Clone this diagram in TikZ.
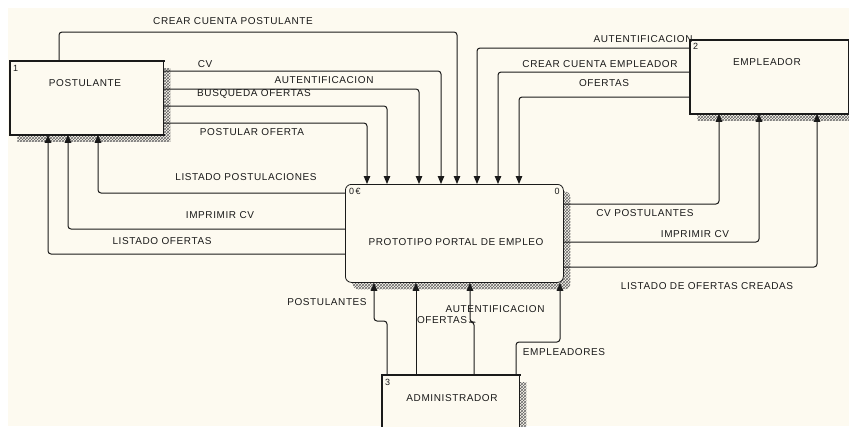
\documentclass[tikz,border=0pt]{standalone}
\usepackage{fontspec}
\newfontfamily\dfdfont{Liberation Sans}[LetterSpace=6]
\usetikzlibrary{arrows.meta,patterns,shadows}
\definecolor{paper}{HTML}{FDFAF0}
\definecolor{ink}{HTML}{1A1A1A}

\begin{document}
\begin{tikzpicture}[x=1pt,y=-1pt,
  every node/.style={font=\dfdfont\fontsize{10}{12}\selectfont, text=ink, inner sep=0pt},
  hatch/.style={general shadow={shadow xshift=7pt, shadow yshift=-7pt,
      pattern=crosshatch, pattern color=black!60}},
  entity/.style={draw=ink, line width=0.8pt, fill=paper, anchor=north west, hatch},
  process/.style={entity, rounded corners=6pt},
  flow/.style={draw=ink, line width=1pt, rounded corners=3pt,
      -{Triangle[length=8pt,width=6.5pt]}},
  edgethick/.style={draw=ink, line width=2.6pt, line cap=rect},
  tag/.style={font=\dfdfont\fontsize{9}{10}\selectfont}
]
% page and paper
\useasboundingbox (0,0) rectangle (849,426);
\fill[white] (0,0) rectangle (849,426);
\fill[paper] (8,8) rectangle (849,426);

% external entities and the process
\node[entity, minimum width=153pt, minimum height=73pt] (post) at (10,61) {};
\node[entity, minimum width=158pt, minimum height=73pt] (emp) at (690,40) {};
\node[entity, minimum width=137pt, minimum height=70pt] (adm) at (382,375) {};
\node[process, minimum width=218pt, minimum height=98pt] (proc) at (345,184) {};

% heavy edges of the entity boxes
\draw[edgethick] (post.north east) -- (post.north west) -- (post.south west) -- (post.south east);
\draw[edgethick] (emp.north east) -- (emp.north west) -- (emp.south west) -- (emp.south east);
\draw[edgethick] (adm.north east) -- (adm.north west) -- (adm.south west);

% titles and numbers
\node (postT) at (85,83) {POSTULANTE};
\node (empT) at (767,62) {EMPLEADOR};
\node (admT) at (452,398) {ADMINISTRADOR};
\node (procT) at (456,242) {PROTOTIPO PORTAL DE EMPLEO};
\node[tag, anchor=north west] (postN) at ([xshift=3pt,yshift=-4pt]post.north west) {1};
\node[tag, anchor=north west] (empN) at ([xshift=3pt,yshift=-3pt]emp.north west) {2};
\node[tag, anchor=north west] (admN) at ([xshift=3pt,yshift=-4pt]adm.north west) {3};
\node[tag, anchor=north west] (procN) at ([xshift=4pt,yshift=-4pt]proc.north west) {0\,€};
\node[tag, anchor=north east] (procM) at ([xshift=-4pt,yshift=-4pt]proc.north east) {0};

% POSTULANTE -> process
\draw[flow] ([xshift=49pt]post.north west) |- (250,32) -| ([xshift=112pt]proc.north west);
\draw[flow] ([yshift=-10pt]post.north east) -| ([xshift=96pt]proc.north west);
\draw[flow] ([yshift=-28pt]post.north east) -| ([xshift=74pt]proc.north west);
\draw[flow] ([yshift=-45pt]post.north east) -| ([xshift=42pt]proc.north west);
\draw[flow] ([yshift=-62pt]post.north east) -| ([xshift=22pt]proc.north west);

% EMPLEADOR -> process
\draw[flow] ([yshift=-8pt]emp.north west) -| ([xshift=132pt]proc.north west);
\draw[flow] ([yshift=-32pt]emp.north west) -| ([xshift=153pt]proc.north west);
\draw[flow] ([yshift=-57pt]emp.north west) -| ([xshift=174pt]proc.north west);

% process -> POSTULANTE
\draw[flow] ([yshift=-9pt]proc.north west) -| ([xshift=88pt]post.south west);
\draw[flow] ([yshift=-45pt]proc.north west) -| ([xshift=58pt]post.south west);
\draw[flow] ([yshift=-70pt]proc.north west) -| ([xshift=38pt]post.south west);

% process -> EMPLEADOR
\draw[flow] ([yshift=-20pt]proc.north east) -| ([xshift=29pt]emp.south west);
\draw[flow] ([yshift=-58pt]proc.north east) -| ([xshift=69pt]emp.south west);
\draw[flow] ([yshift=-83pt]proc.north east) -| ([xshift=127pt]emp.south west);

% ADMINISTRADOR -> process
\draw[flow] ([xshift=5pt]adm.north west) |- (380,321) -| ([xshift=29pt]proc.south west);
\draw[flow] ([xshift=34pt]adm.north west) -- ([xshift=71pt]proc.south west);
\draw[flow] ([xshift=92pt]adm.north west) |- (472,322) -| ([xshift=125pt]proc.south west);
\draw[flow] ([xshift=134pt]adm.north west) |- (540,342) -| ([xshift=215pt]proc.south west);

% flow labels
\node (l1) at (233,21) {CREAR CUENTA POSTULANTE};
\node (l2) at (205,64) {CV};
\node (l3) at (324,80) {AUTENTIFICACION};
\node (l4) at (254,94) {BUSQUEDA OFERTAS};
\node (l5) at (252,132) {POSTULAR OFERTA};
\node (l6) at (246,177) {LISTADO POSTULACIONES};
\node (l7) at (220,215) {IMPRIMIR CV};
\node (l8) at (162,241) {LISTADO OFERTAS};
\node (l9) at (643,39) {AUTENTIFICACION};
\node (l10) at (600,64) {CREAR CUENTA EMPLEADOR};
\node (l11) at (604,83) {OFERTAS};
\node (l12) at (645,213) {CV POSTULANTES};
\node (l13) at (695,234) {IMPRIMIR CV};
\node (l14) at (707,286) {LISTADO DE OFERTAS CREADAS};
\node (l15) at (327,302) {POSTULANTES};
\node (l16) at (442,320) {OFERTAS};
\node (l17) at (495,309) {AUTENTIFICACION};
\node (l18) at (564,352) {EMPLEADORES};
\end{tikzpicture}
\end{document}
